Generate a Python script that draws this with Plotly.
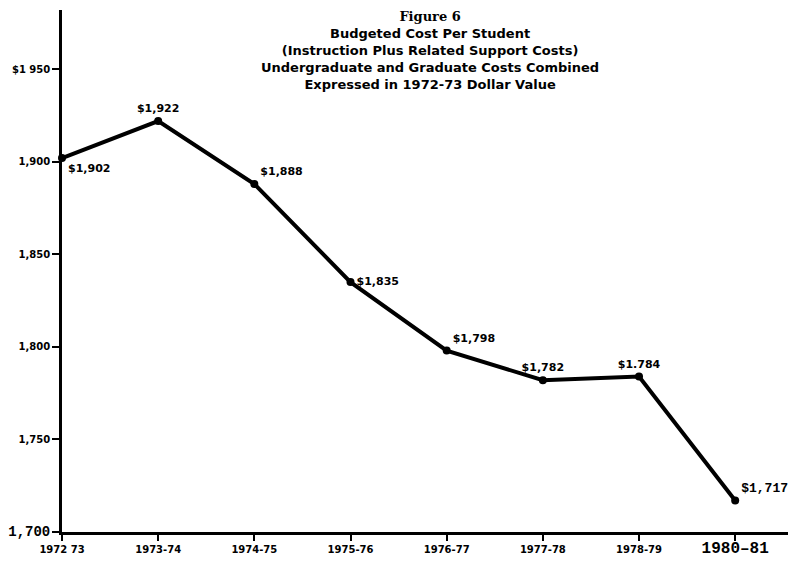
import plotly.graph_objects as go

# Budgeted cost per student, 1972-73 dollars
years = ["1972-73", "1973-74", "1974-75", "1975-76", "1976-77", "1977-78", "1978-79", "1980-81"]
tick_labels = ["1972 73", "1973-74", "1974-75", "1975-76", "1976-77", "1977-78", "1978-79",
               "<span style='font-size:16px;font-family:Liberation Mono'>1980\u201381</span>"]
cost = [1902, 1922, 1888, 1835, 1798, 1782, 1784, 1717]
cost_labels = ["$1,902", "$1,922", "$1,888", "$1,835", "$1,798", "$1,782", "$1.784",
               "<span style='font-size:13px;font-family:Liberation Mono'>$1,717</span>"]
label_pos = ["bottom right", "top center", "top right", "middle right", "top right",
             "top center", "top center", "top right"]

y_ticks = [1700, 1750, 1800, 1850, 1900, 1950]
y_tick_text = ["<span style='font-size:14px;font-family:Liberation Mono'>1,700</span>",
               "1,750", "1,800", "1,850", "1,900", "$1 950"]

x_idx = list(range(len(years)))

fig = go.Figure()
fig.add_trace(go.Scatter(
    x=x_idx, y=cost,
    mode="lines+markers+text",
    line=dict(color="black", width=4),
    marker=dict(color="black", size=8),
    text=cost_labels,
    textposition=label_pos,
    textfont=dict(family="DejaVu Sans", size=11, color="black", weight="bold"),
    cliponaxis=False,
    hoverinfo="skip",
))

title = ("<span style='font-family:DejaVu Serif'>Figure 6</span><br>"
         "Budgeted Cost Per Student<br>"
         "(Instruction Plus Related Support Costs)<br>"
         "Undergraduate and Graduate Costs Combined<br>"
         "Expressed in 1972-73 Dollar Value")
fig.add_annotation(
    text=title, xref="paper", yref="paper", x=0.505, y=1.005,
    xanchor="center", yanchor="top", showarrow=False, align="center",
    font=dict(family="DejaVu Sans", size=13, color="black", weight="bold"),
)

fig.update_xaxes(
    range=[0, 7.57], tickvals=x_idx, ticktext=tick_labels,
    showline=True, linecolor="black", linewidth=2.5,
    ticks="outside", ticklen=6, tickwidth=2, tickcolor="black",
    showgrid=False, zeroline=False, automargin=False,
    tickfont=dict(family="DejaVu Sans", size=10, color="black", weight="bold"),
)
fig.update_yaxes(
    range=[1700, 1982], tickvals=y_ticks, ticktext=y_tick_text,
    showline=True, linecolor="black", linewidth=2.5,
    ticks="outside", ticklen=7, tickwidth=2, tickcolor="black",
    showgrid=False, zeroline=False, automargin=False,
    tickfont=dict(family="DejaVu Sans", size=10, color="black", weight="bold"),
)
# page body keeps an 8px margin, so the figure is sized 8px smaller
fig.update_layout(
    width=788, height=555,
    margin=dict(l=54, r=6, t=2, b=31),
    plot_bgcolor="white", paper_bgcolor="white",
    showlegend=False,
)
fig.write_html("out.html")
